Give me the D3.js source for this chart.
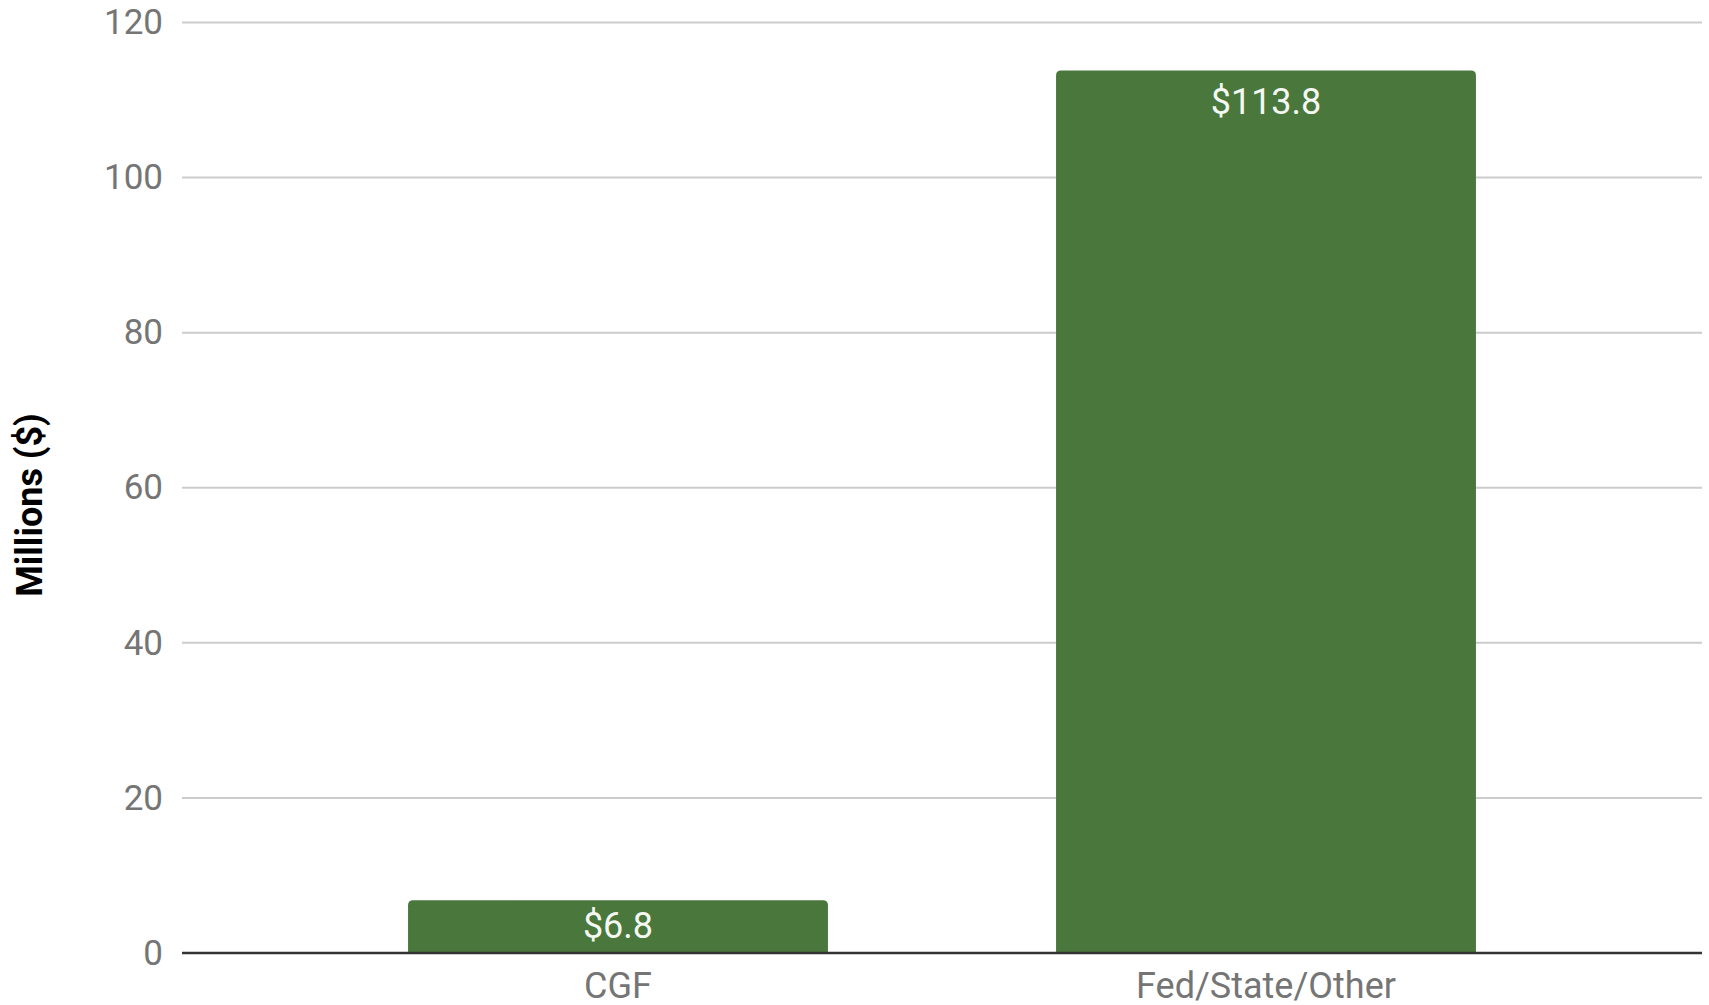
<!DOCTYPE html>
<html>
<head>
<meta charset="utf-8">
<script src="https://cdn.jsdelivr.net/npm/d3@7"></script>
<style>
  html, body { margin: 0; padding: 0; background: #fff; }
  svg { display: block; font-family: Roboto, "Noto Sans", sans-serif; }
</style>
</head>
<body>
<div id="chart"></div>
<script>
// data
var categories = ["CGF", "Fed/State/Other"];
var values = [6.8, 113.8];
var valueLabels = ["$6.8", "$113.8"];
var yTicks = [0, 20, 40, 60, 80, 100, 120];
var yTitle = "Millions ($)";

var width = 1709, height = 1005;

var svg = d3.select("#chart")
    .append("svg")
    .attr("width", width)
    .attr("height", height);

// scales
var gridLeft = 182, gridRight = 1702;
var yScale = d3.scaleLinear().domain([0, 120]).range([953, 22.5]);
var xScale = d3.scaleBand()
    .domain(categories)
    .range([294, 1590])
    .paddingInner(0.352)
    .paddingOuter(0.176);

// gridlines
svg.append("g")
    .selectAll("line")
    .data(yTicks.filter(function(d) { return d > 0; }))
    .enter().append("line")
    .attr("x1", gridLeft)
    .attr("x2", gridRight)
    .attr("y1", function(d) { return yScale(d); })
    .attr("y2", function(d) { return yScale(d); })
    .style("stroke", "#cccccc")
    .style("stroke-width", 2);

// y axis labels
var yAxis = d3.axisLeft(yScale).tickValues(yTicks).tickSize(0).tickPadding(0);
var yg = svg.append("g")
    .attr("transform", "translate(163,0)")
    .call(yAxis);
yg.select(".domain").remove();
yg.selectAll("text")
    .style("font-family", "Roboto, sans-serif")
    .style("font-size", "35px")
    .attr("fill", "#757575");

// bars with rounded tops
var r = 5;
function barPath(d, i) {
    var x0 = xScale(categories[i]), x1 = x0 + xScale.bandwidth();
    var y0 = yScale(0), y1 = yScale(d);
    return "M" + x0 + "," + y0 +
        "V" + (y1 + r) +
        "Q" + x0 + "," + y1 + " " + (x0 + r) + "," + y1 +
        "H" + (x1 - r) +
        "Q" + x1 + "," + y1 + " " + x1 + "," + (y1 + r) +
        "V" + y0 + "Z";
}

svg.append("g")
    .selectAll("path")
    .data(values)
    .enter().append("path")
    .attr("d", barPath)
    .style("fill", "#4a773c");

// value labels
svg.append("g")
    .selectAll("text")
    .data(values)
    .enter().append("text")
    .attr("x", function(d, i) { return xScale(categories[i]) + xScale.bandwidth() / 2; })
    .attr("y", function(d) { return Math.min(yScale(d) + 43, yScale(0) - 15); })
    .attr("text-anchor", "middle")
    .style("font-size", "36px")
    .style("fill", "#f4f7f2")
    .text(function(d, i) { return valueLabels[i]; });

// baseline
svg.append("line")
    .attr("x1", gridLeft)
    .attr("x2", gridRight)
    .attr("y1", yScale(0))
    .attr("y2", yScale(0))
    .style("stroke", "#333333")
    .style("stroke-width", 2.5);

// x axis labels
var xAxis = d3.axisBottom(xScale).tickSize(0).tickPadding(0);
var xg = svg.append("g")
    .attr("transform", "translate(0," + (yScale(0) + 11) + ")")
    .call(xAxis);
xg.select(".domain").remove();
xg.selectAll("text")
    .attr("dy", "0.95em")
    .style("font-family", "Roboto, sans-serif")
    .style("font-size", "36px")
    .attr("fill", "#757575");

// y title
svg.append("text")
    .attr("transform", "translate(42," + 505 + ") rotate(-90)")
    .attr("text-anchor", "middle")
    .style("font-size", "36px")
    .style("font-weight", "bold")
    .style("fill", "#000")
    .text(yTitle);
</script>
</body>
</html>
